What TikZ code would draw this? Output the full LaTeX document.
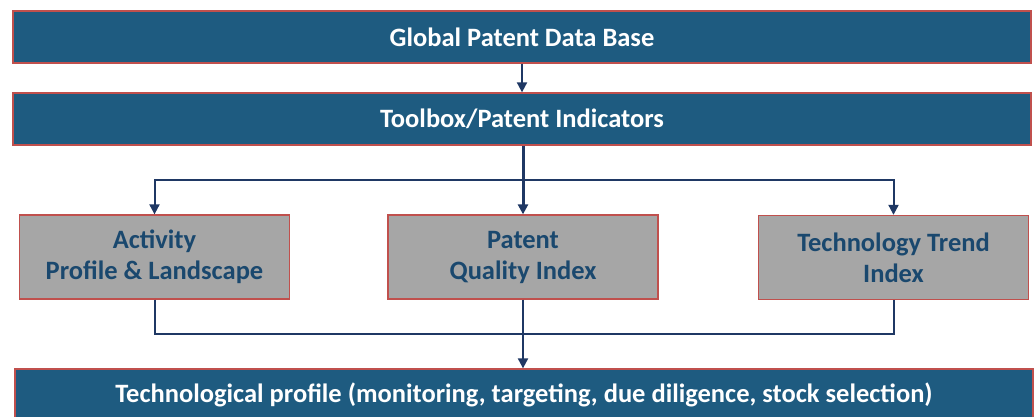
\documentclass[tikz,border=0pt]{standalone}
\usepackage{fontspec}
\setmainfont{Carlito}
\usetikzlibrary{arrows.meta}
\definecolor{barblue}{RGB}{30,91,128}
\definecolor{edgered}{RGB}{192,80,77}
\definecolor{boxgray}{RGB}{166,166,166}
\definecolor{inkblue}{RGB}{26,72,110}
\definecolor{navy}{RGB}{31,56,100}
\tikzset{
  bar/.style={draw=edgered,line width=1.3pt,fill=barblue,text=white,inner sep=0pt,
    minimum height=52pt,font=\fontsize{26.5}{31}\selectfont\bfseries},
  index/.style={draw=edgered,line width=1.3pt,fill=boxgray,text=inkblue,inner sep=0pt,
    minimum width=270pt,minimum height=84pt,align=center,
    font=\fontsize{26.5}{31}\selectfont\bfseries},
  link/.style={draw=navy,line width=2pt},
  arr/.style={link,-{Triangle[width=10pt,length=10pt]}}
}
\begin{document}
\begin{tikzpicture}[x=1pt,y=-1pt]
\useasboundingbox (0,0) rectangle (1035,417);
\node[bar,minimum width=1018pt] (gpdb) at (522,37) {Global Patent Data Base};
\node[bar,minimum width=1018pt] (toolbox) at (522,119) {Toolbox/Patent Indicators};
\node[index] (activity) at (154.5,257) {Activity\\Profile \& Landscape};
\node[index] (quality) at (523,257) {Patent\\Quality Index};
\node[index] (trend) at (893.5,257.5) {Technology Trend\\Index};
\node[bar,minimum width=1018pt] (profile) at (524,395) {Technological profile (monitoring, targeting, due diligence, stock selection)};
\coordinate (split) at (523,180);
\coordinate (merge) at (523,334);
\draw[arr] (gpdb.south) -- (toolbox.north);
\draw[arr] (split) -| (activity.north);
\draw[arr] (split) -| (trend.north);
\draw[arr,line width=3pt] (toolbox.south -| quality.north) -- (quality.north);
\draw[link] (activity.south) |- (merge) -| (trend.south);
\draw[arr] (quality.south) -- (quality.south |- profile.north);
\end{tikzpicture}
\end{document}
